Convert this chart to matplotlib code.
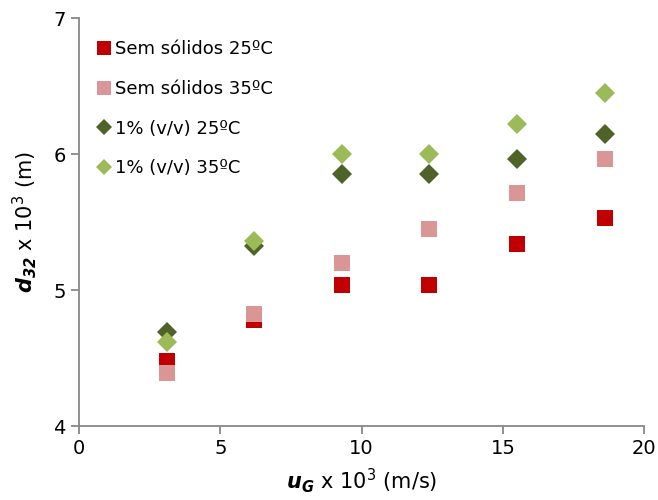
import matplotlib.pyplot as plt

# dados
ug = [3.1, 6.2, 9.3, 12.4, 15.5, 18.6]
sem_25 = [4.48, 4.78, 5.04, 5.04, 5.34, 5.53]
sem_35 = [4.39, 4.82, 5.20, 5.45, 5.71, 5.96]
vv_25 = [4.69, 5.32, 5.85, 5.85, 5.96, 6.15]
vv_35 = [4.62, 5.36, 6.00, 6.00, 6.22, 6.45]
labels = ['Sem sólidos 25ºC', 'Sem sólidos 35ºC', '1% (v/v) 25ºC', '1% (v/v) 35ºC']

plt.rcParams['font.family'] = ['DejaVu Sans']
plt.rcParams['mathtext.fontset'] = 'dejavusans'

fig = plt.figure(figsize=(6.58, 5), dpi=100)
ax = fig.add_axes([0.12, 0.148, 0.859, 0.816])

ax.plot(ug, sem_25, 's', color='#C00000', ms=12, mew=0, label=labels[0])
ax.plot(ug, sem_35, 's', color='#DA9694', ms=12, mew=0, label=labels[1])
ax.plot(ug, vv_25, 'D', color='#4F6228', ms=10.5, mew=0, label=labels[2])
ax.plot(ug, vv_35, 'D', color='#9BBB59', ms=10.5, mew=0, label=labels[3])

ax.set_xlim(0, 20)
ax.set_ylim(4, 7)
ax.set_xticks([0, 5, 10, 15, 20])
ax.set_yticks([4, 5, 6, 7])

for s in ['top', 'right']:
    ax.spines[s].set_visible(False)
for s in ['left', 'bottom']:
    ax.spines[s].set_color('#888888')
    ax.spines[s].set_linewidth(1.3)
ax.tick_params(colors='#888888', labelcolor='black', labelsize=14, length=6, width=1.3)

ax.set_xlabel(r'$\mathbfit{u_G}$ x 10$^3$ (m/s)', fontsize=15, labelpad=6)
ax.set_ylabel(r'$\mathbfit{d_{32}}$ x 10$^3$ (m)', fontsize=15, labelpad=10)

ax.legend(loc='upper left', bbox_to_anchor=(0.0, 0.985), frameon=False, fontsize=13,
          handletextpad=0.1, labelspacing=1.2, markerscale=0.8, handlelength=1.0)

fig.savefig('out.png', dpi=100)
